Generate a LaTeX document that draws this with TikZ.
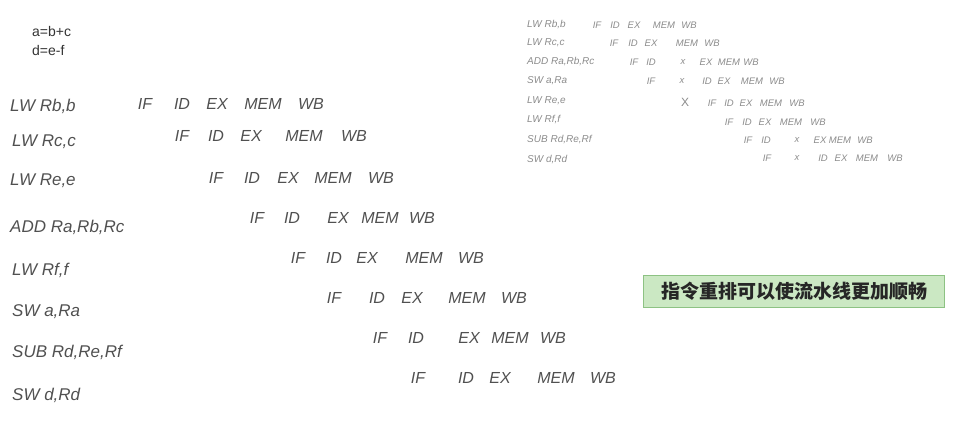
\documentclass[tikz,border=0pt]{standalone}
\usepackage{fontspec}
\setmainfont{Liberation Sans}
\newfontfamily\cjk{Noto Sans CJK SC}
\definecolor{hand}{HTML}{505050}
\definecolor{handlight}{HTML}{8C8C8C}
\definecolor{notefill}{HTML}{CBE8C3}
\definecolor{notedraw}{HTML}{8DC283}
\definecolor{eqtext}{HTML}{333333}
\begin{document}
\begin{tikzpicture}[x=1pt,y=-1pt,
  lbl/.style={anchor=west,inner sep=0pt,text=hand,font=\fontsize{17}{17}\selectfont\itshape},
  stg/.style={anchor=center,inner sep=0pt,text=hand,font=\fontsize{16}{16}\selectfont\itshape},
  slbl/.style={anchor=west,inner sep=0pt,text=handlight,font=\fontsize{10}{10}\selectfont\itshape},
  sstg/.style={anchor=center,inner sep=0pt,text=handlight,font=\fontsize{9.5}{9.5}\selectfont\itshape},
  eq/.style={anchor=west,inner sep=0pt,text=eqtext,font=\fontsize{14}{14}\selectfont},
  note/.style={draw=notedraw,line width=1.2pt,fill=notefill,minimum width=301pt,minimum height=32pt,inner sep=0pt,text=black!85,font=\fontsize{19}{19}\selectfont\cjk}]
\useasboundingbox (0,0) rectangle (965,421);
% equations
\node[eq] (eq1) at (32,31) {a=b+c};
\node[eq] (eq2) at (32,50) {d=e-f};
% left: instruction labels
\node[lbl] (L1) at (10,106) {LW Rb,b};
\node[lbl] (L2) at (12,142) {LW Rc,c};
\node[lbl] (L3) at (10,181) {LW Re,e};
\node[lbl] (L4) at (10,227) {ADD Ra,Rb,Rc};
\node[lbl] (L5) at (12,270) {LW Rf,f};
\node[lbl] (L6) at (12,312) {SW a,Ra};
\node[lbl] (L7) at (12,352) {SUB Rd,Re,Rf};
\node[lbl] (L8) at (12,395) {SW d,Rd};
% left: pipeline stages
\foreach \r/\y/\a/\b/\c/\d/\e in {1/104/145/182/217/263/311, 2/136/182/216/251/304/354, 3/178/216/252/288/333/381, 4/218/257/292/338/380/422, 5/258/298/334/367/424/471, 6/298/334/377/412/467/514, 7/338/380/416/469/510/553, 8/378/418/466/500/556/603}{
  \node[stg] (P\r IF) at (\a,\y) {IF};
  \node[stg] (P\r ID) at (\b,\y) {ID};
  \node[stg] (P\r EX) at (\c,\y) {EX};
  \node[stg] (P\r MEM) at (\d,\y) {MEM};
  \node[stg] (P\r WB) at (\e,\y) {WB};
}
% right: reordered schedule labels
\node[slbl] (S1) at (527,25) {LW Rb,b};
\node[slbl] (S2) at (527,43) {LW Rc,c};
\node[slbl] (S3) at (527,62) {ADD Ra,Rb,Rc};
\node[slbl] (S4) at (527,81) {SW a,Ra};
\node[slbl] (S5) at (527,101) {LW Re,e};
\node[slbl] (S6) at (527,120) {LW Rf,f};
\node[slbl] (S7) at (527,140) {SUB Rd,Re,Rf};
\node[slbl] (S8) at (527,160) {SW d,Rd};
% right: stages
\foreach \r/\y/\a/\b/\c/\d/\e in {1/25/597/615/634/664/689, 2/43/614/633/651/687/712, 5/103/712/729/746/771/797, 6/122/729/747/765/791/818}{
  \node[sstg] (Q\r IF) at (\a,\y) {IF};
  \node[sstg] (Q\r ID) at (\b,\y) {ID};
  \node[sstg] (Q\r EX) at (\c,\y) {EX};
  \node[sstg] (Q\r MEM) at (\d,\y) {MEM};
  \node[sstg] (Q\r WB) at (\e,\y) {WB};
}
% rows with a stall after ID
\foreach \r/\y/\a/\b/\x/\c/\d/\e in {3/62/634/651/683/706/729/751, 7/140/748/766/797/820/840/865}{
  \node[sstg] (Q\r IF) at (\a,\y) {IF};
  \node[sstg] (Q\r ID) at (\b,\y) {ID};
  \node[sstg] (Q\r X) at (\x,\y) {x};
  \node[sstg] (Q\r EX) at (\c,\y) {EX};
  \node[sstg] (Q\r MEM) at (\d,\y) {MEM};
  \node[sstg] (Q\r WB) at (\e,\y) {WB};
}
% rows with a stall after IF
\foreach \r/\y/\a/\x/\b/\c/\d/\e in {4/81/651/682/707/724/752/777, 8/158/767/797/823/841/867/895}{
  \node[sstg] (Q\r IF) at (\a,\y) {IF};
  \node[sstg] (Q\r X) at (\x,\y) {x};
  \node[sstg] (Q\r ID) at (\b,\y) {ID};
  \node[sstg] (Q\r EX) at (\c,\y) {EX};
  \node[sstg] (Q\r MEM) at (\d,\y) {MEM};
  \node[sstg] (Q\r WB) at (\e,\y) {WB};
}
\node[sstg,font=\fontsize{12}{12}\selectfont] (Q5X) at (685,102) {X};
% note
\node[note] (note) at (794,291.5) {\bfseries 指令重排可以使流水线更加顺畅};
\end{tikzpicture}
\end{document}
